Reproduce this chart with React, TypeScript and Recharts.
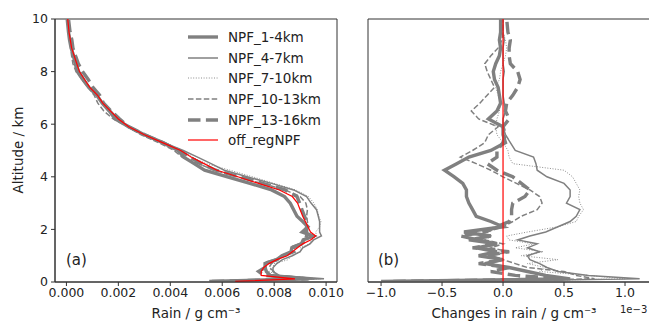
import { ComposedChart, Line, XAxis, YAxis, Legend, ReferenceArea } from "recharts";

// altitude levels (km)
const altitude = [
  0.02, 0.12, 0.25, 0.4, 0.55, 0.7, 0.85, 1.0, 1.15, 1.3, 1.45, 1.6, 1.75, 1.9, 2.1,
  2.3, 2.5, 2.75, 3.0, 3.25, 3.5, 3.75, 4.0, 4.25, 4.5, 4.75, 5.0, 5.3, 5.6, 5.9,
  6.2, 6.5, 6.8, 7.1, 7.4, 7.7, 8.0, 8.3, 8.6, 8.9, 9.2, 9.5, 10.0,
];

// control run rain profile (g cm-3)
const offRegNPF = [
  0.0065, 0.0088, 0.0075, 0.0075, 0.0076, 0.0078, 0.0081, 0.0085, 0.0087, 0.0089, 0.0091,
  0.0094, 0.0096, 0.0094, 0.0093, 0.0092, 0.0091, 0.009, 0.0089, 0.0087, 0.0082, 0.0074,
  0.0066, 0.0058, 0.0053, 0.0048, 0.0044, 0.0037, 0.003, 0.0024, 0.002, 0.0017, 0.0014,
  0.0012, 0.0009, 0.0007, 0.0005, 0.0004, 0.0003, 0.0002, 0.00015, 0.0001, 0.00005,
];

// NPF minus control, in units of 1e-3 g cm-3
const dNpf1to4 = [
  -1.0, 0.55, 0.35, 0.2, 0.05, -0.15, 0.0, -0.2, -0.05, -0.22, -0.05, -0.28, -0.1, -0.32, 0.0,
  -0.1, -0.22, -0.25, -0.28, -0.3, -0.3, -0.33, -0.4, -0.48, -0.38, -0.28, -0.1, 0.02, 0.0, 0.0,
  -0.12, -0.05, -0.02, -0.03, -0.04, -0.07, -0.08, -0.06, -0.03, -0.02, -0.03, -0.02, -0.02,
];
const dNpf4to7 = [
  -0.3, 1.12, 0.7, 0.45, 0.36, 0.3, 0.22, 0.2, 0.3, 0.2, 0.28, 0.12, 0.22, 0.35, 0.45,
  0.55, 0.6, 0.63, 0.52, 0.55, 0.55, 0.5, 0.36, 0.28, 0.27, 0.25, 0.1, 0.06, 0.02, 0.0,
  0.0, 0.02, 0.01, 0.0, 0.0, 0.0, 0.01, 0.0, 0.0, 0.0, 0.01, 0.0, 0.0,
];
const dNpf7to10 = [
  -0.2, 1.0, 0.7, 0.3, 0.35, 0.2, 0.45, 0.15, 0.33, 0.1, 0.25, 0.05, 0.03, 0.2, 0.45,
  0.6, 0.62, 0.66, 0.63, 0.62, 0.63, 0.6, 0.57, 0.5, 0.08, 0.05, 0.04, 0.0, -0.05, -0.06,
  -0.05, -0.03, -0.02, -0.04, -0.06, -0.03, -0.02, 0.0, 0.02, 0.03, 0.02, 0.0, 0.0,
];
const dNpf10to13 = [
  -0.5, 0.75, 0.6, 0.5, 0.2, 0.1, 0.0, -0.1, 0.05, -0.1, 0.0, -0.15, -0.1, -0.13, 0.0,
  0.08, 0.15, 0.28, 0.32, 0.3, 0.22, 0.11, 0.0, -0.1, -0.22, -0.35, -0.25, -0.15, -0.12, -0.04,
  -0.2, -0.26, -0.19, -0.13, -0.07, -0.1, -0.13, -0.15, -0.1, -0.04, -0.01, 0.0, 0.0,
];
const dNpf13to16 = [
  -0.9, 0.5, 0.1, -0.1, 0.05, -0.2, 0.0, -0.15, 0.05, -0.25, -0.05, -0.2, -0.35, -0.15, -0.05,
  0.05, 0.07, 0.07, 0.08, 0.18, 0.22, 0.15, 0.08, -0.05, -0.13, -0.05, -0.05, 0.0, 0.02, 0.0,
  0.05, 0.02, 0.03, 0.08, 0.12, 0.14, 0.12, 0.06, 0.05, 0.05, 0.06, 0.04, 0.03,
];

const altTicks = [0, 2, 4, 6, 8, 10];
const rainTicks = [0, 0.002, 0.004, 0.006, 0.008, 0.01];
const changeTicks = [-1.0, -0.5, 0.0, 0.5, 1.0];

const GREY = "#808080";
const AXIS = "#333";
const FONT = "DejaVu Sans";

const runs = [
  { key: "npf1_4", name: "NPF_1-4km", diff: dNpf1to4, width: 3.4, dash: undefined },
  { key: "npf4_7", name: "NPF_4-7km", diff: dNpf4to7, width: 1.5, dash: undefined },
  { key: "npf7_10", name: "NPF_7-10km", diff: dNpf7to10, width: 0.9, dash: "1 1.6" },
  { key: "npf10_13", name: "NPF_10-13km", diff: dNpf10to13, width: 1.5, dash: "5.5 2.4" },
  { key: "npf13_16", name: "NPF_13-16km", diff: dNpf13to16, width: 3.4, dash: "12.5 5.4" },
];

const profileRows = altitude.map((alt, i) => {
  const row: Record<string, number> = { alt, off: offRegNPF[i] };
  runs.forEach((r) => (row[r.key] = offRegNPF[i] + r.diff[i] / 1000));
  return row;
});

const changeRows = altitude.map((alt, i) => {
  const row: Record<string, number> = { alt, off: 0 };
  runs.forEach((r) => (row[r.key] = r.diff[i]));
  return row;
});

const tickStyle = { fontSize: 12.5, fill: "#222" };

function LegendBox() {
  const items = [
    ...runs.map((r) => ({ name: r.name, color: GREY, width: r.width, dash: r.dash })),
    { name: "off_regNPF", color: "red", width: 1.2, dash: undefined },
  ];
  return (
    <div style={{ fontFamily: FONT, fontSize: 13.5, color: "#222" }}>
      {items.map((it) => (
        <div key={it.name} style={{ display: "flex", alignItems: "center", height: 20.6 }}>
          <svg width={34} height={10} style={{ marginRight: 8 }}>
            <line
              x1={2}
              x2={32}
              y1={5}
              y2={5}
              stroke={it.color}
              strokeWidth={it.width}
              strokeDasharray={it.dash}
            />
          </svg>
          <span>{it.name}</span>
        </div>
      ))}
    </div>
  );
}

function seriesLines() {
  return [
    ...runs.map((r) => (
      <Line
        key={r.key}
        dataKey={r.key}
        name={r.name}
        type="linear"
        stroke={GREY}
        strokeWidth={r.width}
        strokeDasharray={r.dash}
        dot={false}
        activeDot={false}
        isAnimationActive={false}
      />
    )),
    <Line
      key="off"
      dataKey="off"
      name="off_regNPF"
      type="linear"
      stroke="red"
      strokeWidth={1.2}
      dot={false}
      activeDot={false}
      isAnimationActive={false}
    />,
  ];
}

function RainProfile() {
  const xDomain: [number, number] = [-0.00044, 0.01042];
  return (
    <ComposedChart
      layout="vertical"
      width={345}
      height={321}
      data={profileRows}
      margin={{ top: 19, right: 8, bottom: 14, left: 15 }}
    >
      <XAxis
        type="number"
        domain={xDomain}
        ticks={rainTicks}
        allowDataOverflow
        tickFormatter={(v: number) => v.toFixed(3)}
        height={25}
        tickSize={4}
        tickMargin={2}
        stroke={AXIS}
        tick={tickStyle}
      />
      <YAxis
        type="number"
        dataKey="alt"
        domain={[0, 10]}
        ticks={altTicks}
        reversed
        allowDataOverflow
        width={40}
        tickSize={4}
        tickMargin={3}
        stroke={AXIS}
        tick={tickStyle}
      />
      {/* axes frame */}
      <ReferenceArea x1={xDomain[0]} x2={xDomain[1]} y1={0} y2={10} fill="none" stroke={AXIS} />
      {seriesLines()}
      <Legend
        layout="vertical"
        align="center"
        verticalAlign="middle"
        wrapperStyle={{ left: 186, top: 27, width: 150, height: "auto" }}
        content={() => <LegendBox />}
      />
      <text x={66} y={265} fontSize={15} fill="#222">
        (a)
      </text>
      <text x={196} y={318} fontSize={13.5} fill="#222" textAnchor="middle">
        Rain / g cm⁻³
      </text>
      <text
        x={18}
        y={150}
        fontSize={13.5}
        fill="#222"
        textAnchor="middle"
        dominantBaseline="central"
        transform="rotate(-90 18 150)"
      >
        Altitude / km
      </text>
    </ComposedChart>
  );
}

function ChangeProfile() {
  const xDomain: [number, number] = [-1.107, 1.213];
  return (
    <ComposedChart
      layout="vertical"
      width={306}
      height={321}
      data={changeRows}
      margin={{ top: 19, right: 0, bottom: 14, left: 23 }}
    >
      <XAxis
        type="number"
        domain={xDomain}
        ticks={changeTicks}
        allowDataOverflow
        tickFormatter={(v: number) => v.toFixed(1).replace("-", "\u2212")}
        height={25}
        tickSize={4}
        tickMargin={2}
        stroke={AXIS}
        tick={tickStyle}
      />
      <YAxis
        type="number"
        dataKey="alt"
        domain={[0, 10]}
        ticks={altTicks}
        reversed
        allowDataOverflow
        width={0}
        tickSize={4}
        tickFormatter={() => ""}
        stroke={AXIS}
      />
      <ReferenceArea x1={xDomain[0]} x2={xDomain[1]} y1={0} y2={10} fill="none" stroke={AXIS} />
      {seriesLines()}
      <text x={33} y={265} fontSize={15} fill="#222">
        (b)
      </text>
      <text x={169} y={318} fontSize={13.5} fill="#222" textAnchor="middle">
        Changes in rain / g cm⁻³
      </text>
      <text x={275} y={313} fontSize={10} fill="#222">
        1e−3
      </text>
    </ComposedChart>
  );
}

export default function App() {
  return (
    <div
      style={{
        position: "absolute",
        left: 0,
        top: 0,
        width: 649,
        height: 321,
        overflow: "hidden",
        background: "#fff",
        fontFamily: FONT,
      }}
    >
      <div style={{ position: "absolute", left: 0, top: 0 }}>
        <RainProfile />
      </div>
      <div style={{ position: "absolute", left: 345, top: 0 }}>
        <ChangeProfile />
      </div>
    </div>
  );
}
